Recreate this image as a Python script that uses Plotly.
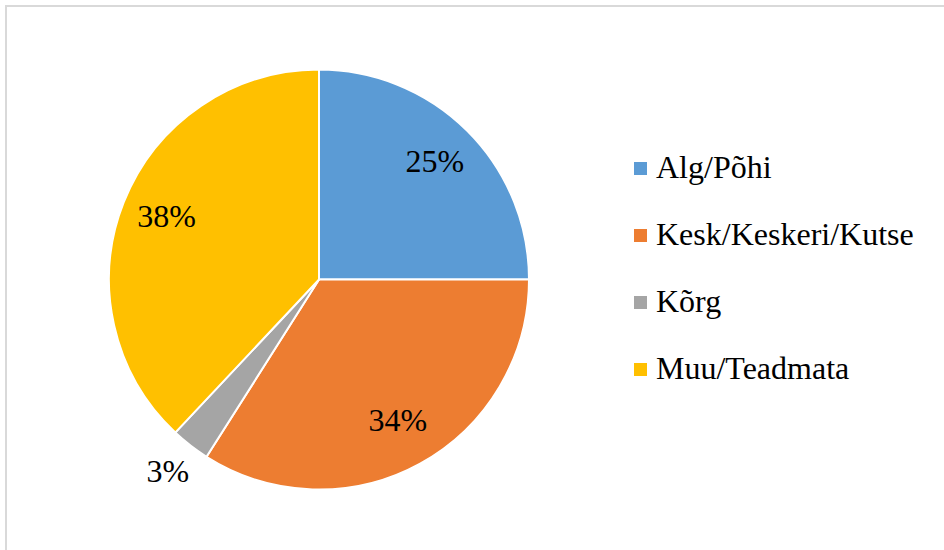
import plotly.graph_objects as go

labels = ["Alg/Põhi", "Kesk/Keskeri/Kutse", "Kõrg", "Muu/Teadmata"]
values = [25, 34, 3, 38]
colors = ["#5B9BD5", "#ED7D31", "#A5A5A5", "#FFC000"]
label_outside = [False, False, True, False]

W, H = 944, 550
FONT = "Liberation Serif"
CX, CY, R = 319, 279.5, 210       # pie centre / radius in pixels
RMAX = 1.2                          # radial range of the polar axis

def px(x):
    return x / W

def py(y):
    return 1 - y / H

# slice geometry in the angular axis (degrees, clockwise from 12 o'clock)
total = sum(values)
cum = 0
thetas, widths, texts, text_r = [], [], [], []
for v, out in zip(values, label_outside):
    thetas.append((cum + v / 2) / total * 360)
    widths.append(v / total * 360)
    cum += v
    texts.append(f"{round(v / total * 100)}%")
    text_r.append(1.175 if out else 0.78)

fig = go.Figure()
fig.add_trace(go.Barpolar(
    r=[1] * len(values), theta=thetas, width=widths,
    marker=dict(color=colors, line=dict(color="white", width=2)),
    customdata=labels,
    hovertemplate="%{customdata}: %{text}<extra></extra>",
    text=texts,
    showlegend=False,
))
fig.add_trace(go.Scatterpolar(
    r=text_r, theta=thetas, text=texts, mode="text",
    textfont=dict(family=FONT, size=32, color="black"),
    hoverinfo="skip", showlegend=False, cliponaxis=False,
))

RP = R * RMAX
fig.update_layout(
    polar=dict(
        domain=dict(x=[px(CX - RP), px(CX + RP)], y=[py(CY + RP), py(CY - RP)]),
        bgcolor="rgba(0,0,0,0)",
        bargap=0,
        radialaxis=dict(range=[0, RMAX], visible=False, showgrid=False),
        angularaxis=dict(rotation=90, direction="clockwise", visible=False,
                         showgrid=False, showline=False),
    )
)

shapes = [dict(type="rect", xref="paper", yref="paper",
               x0=px(6), x1=1.05, y0=-0.05, y1=py(6),
               line=dict(color="#D9D9D9", width=2), fillcolor="rgba(0,0,0,0)",
               layer="below")]
annotations = []
leg_x0 = 634
leg_y0 = 168.5
leg_dy = 67
for i, (lab, col) in enumerate(zip(labels, colors)):
    yc = leg_y0 + i * leg_dy
    shapes.append(dict(type="rect", xref="paper", yref="paper",
                       x0=px(leg_x0), x1=px(leg_x0 + 13),
                       y0=py(yc + 6.5), y1=py(yc - 6.5),
                       line=dict(width=0), fillcolor=col))
    annotations.append(dict(text=lab, xref="paper", yref="paper",
                            x=px(leg_x0 + 20), y=py(yc - 1.5),
                            xanchor="left", yanchor="middle", showarrow=False,
                            font=dict(family=FONT, size=32, color="black")))

fig.update_layout(
    width=W, height=H,
    margin=dict(l=0, r=0, t=0, b=0),
    paper_bgcolor="white",
    plot_bgcolor="white",
    shapes=shapes,
    annotations=annotations,
)
fig.write_html("out.html",
               config={"displayModeBar": False},
               post_script="document.body.style.margin='0';document.body.style.overflow='hidden';")
